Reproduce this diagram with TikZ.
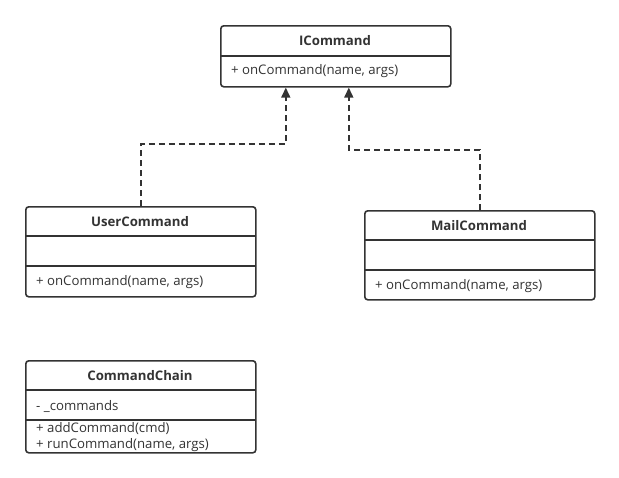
\documentclass[tikz,border=0pt]{standalone}
\usepackage{fontspec}
\setmainfont{Open Sans}
\usetikzlibrary{arrows.meta,calc}
\definecolor{ink}{HTML}{333333}
\begin{document}
\begin{tikzpicture}[x=1pt,y=-1pt,
  cls/.style={draw=ink, line width=1.6pt, rounded corners=3pt, anchor=north west, minimum width=230pt, inner sep=0pt},
  sep/.style={draw=ink, line width=1.3pt},
  title/.style={font=\fontsize{13.2}{15}\selectfont\bfseries, text=ink},
  member/.style={font=\fontsize{13.2}{15}\selectfont, text=ink, anchor=west, inner sep=0pt},
  dep/.style={draw=ink, line width=1.5pt, dash pattern=on 6pt off 4pt, -{Triangle[length=10pt,width=9pt]}}]
\useasboundingbox (0,0) rectangle (619,477);
% ICommand
\node[cls, minimum height=61pt] (ic) at (220,25) {};
\draw[sep] (220,56) -- (450,56);
\node[title] (ict) at (335,41) {ICommand};
\node[member] (icm) at (231,71) {+ onCommand(name, args)};
% UserCommand
\node[cls, minimum height=90pt] (uc) at (25,206) {};
\draw[sep] (25,236) -- (255,236);
\draw[sep] (25,266) -- (255,266);
\node[title] (uct) at (140,222) {UserCommand};
\node[member] (ucm) at (36,282) {+ onCommand(name, args)};
% MailCommand
\node[cls, minimum height=89pt] (mc) at (364,210) {};
\draw[sep] (364,240) -- (594,240);
\draw[sep] (364,270) -- (594,270);
\node[title] (mct) at (479,226) {MailCommand};
\node[member] (mcm) at (375,286) {+ onCommand(name, args)};
% CommandChain
\node[cls, minimum height=92pt] (cc) at (25,360) {};
\draw[sep] (25,390) -- (255,390);
\draw[sep] (25,420) -- (255,420);
\node[title] (cct) at (140,376) {CommandChain};
\node[member] (ccf) at (36,406) {- \_commands};
\node[member] (ccm1) at (36,429) {+ addCommand(cmd)};
\node[member] (ccm2) at (36,445) {+ runCommand(name, args)};
% realizations
\draw[dep] (uc.north) -- ++(0,-62) -| ([xshift=-50pt]ic.south);
\draw[dep] (mc.north) -- ++(0,-60) -| ([xshift=13pt]ic.south);
\end{tikzpicture}
\end{document}
